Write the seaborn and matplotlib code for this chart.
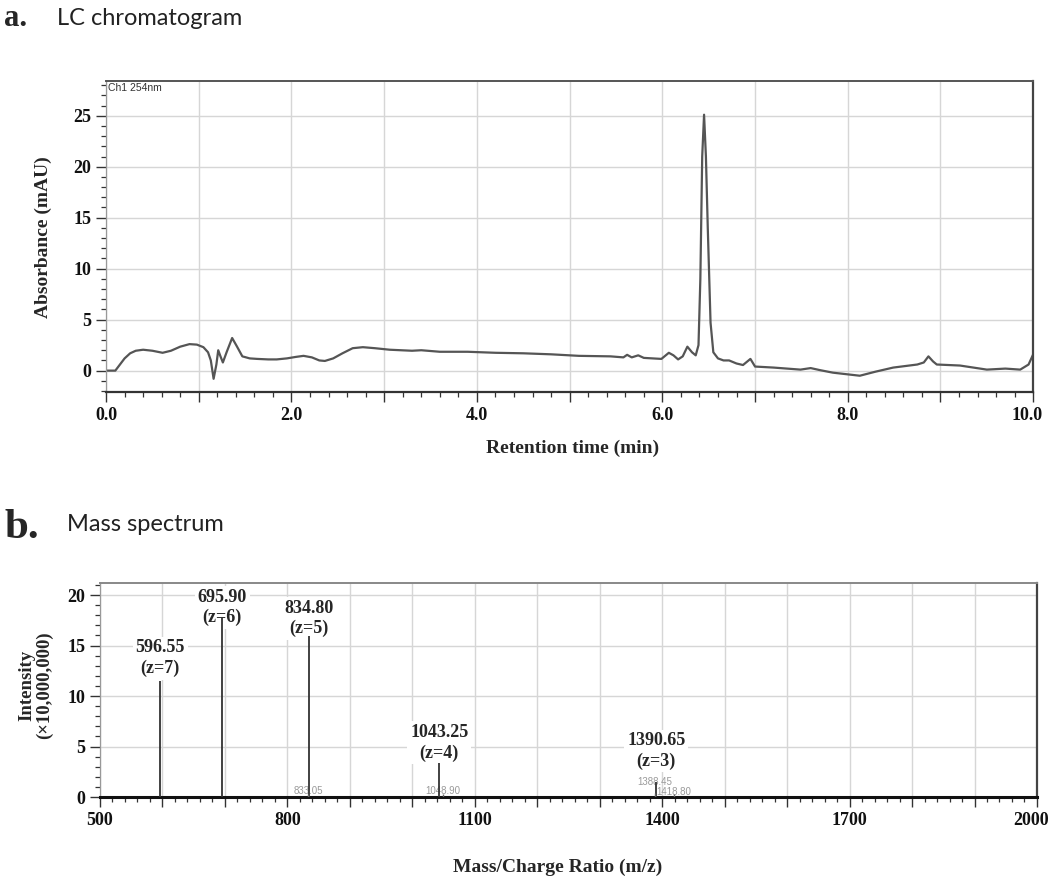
import matplotlib
matplotlib.use("Agg")
import matplotlib.pyplot as plt
from matplotlib.ticker import MultipleLocator, FuncFormatter
from matplotlib.transforms import ScaledTranslation
import pandas as pd
import seaborn as sns

# -----------------------------
# Data
# -----------------------------
# LC trace, Ch1 254 nm
rt_min = [0.00, 0.10, 0.15, 0.20, 0.26, 0.32, 0.40, 0.50, 0.61, 0.70, 0.80, 0.90, 0.98,
          1.05, 1.10, 1.13, 1.16, 1.19, 1.21, 1.23, 1.26, 1.30, 1.36, 1.41, 1.47, 1.55,
          1.63, 1.75, 1.84, 1.95, 2.05, 2.13, 2.22, 2.30, 2.36, 2.45, 2.55, 2.66, 2.77,
          2.90, 3.06, 3.30, 3.40, 3.60, 3.90, 4.20, 4.50, 4.80, 5.10, 5.44, 5.58, 5.62,
          5.67, 5.74, 5.80, 5.99, 6.07, 6.12, 6.17, 6.22, 6.27, 6.32, 6.36, 6.39, 6.41,
          6.43, 6.45, 6.47, 6.49, 6.52, 6.55, 6.60, 6.66, 6.72, 6.80, 6.87, 6.95, 7.00,
          7.20, 7.49, 7.60, 7.70, 7.84, 8.13, 8.30, 8.49, 8.75, 8.82, 8.87, 8.92, 8.96,
          9.21, 9.50, 9.70, 9.86, 9.95, 10.00]
abs_mau = [0.0, 0.0, 0.6, 1.2, 1.7, 1.95, 2.05, 1.95, 1.75, 1.95, 2.35, 2.6, 2.55,
           2.3, 1.8, 1.0, -0.8, 0.6, 2.0, 1.5, 0.8, 1.8, 3.2, 2.4, 1.4, 1.2,
           1.15, 1.1, 1.1, 1.2, 1.35, 1.45, 1.3, 1.0, 0.95, 1.2, 1.7, 2.2, 2.3,
           2.2, 2.05, 1.95, 2.0, 1.85, 1.85, 1.75, 1.7, 1.6, 1.45, 1.4, 1.3, 1.55,
           1.3, 1.5, 1.25, 1.15, 1.75, 1.5, 1.1, 1.4, 2.35, 1.8, 1.5, 2.5, 9.0,
           21.0, 25.1, 21.0, 14.0, 4.7, 1.8, 1.2, 1.0, 1.0, 0.7, 0.55, 1.15, 0.4,
           0.3, 0.1, 0.25, 0.05, -0.2, -0.5, -0.1, 0.3, 0.6, 0.8, 1.4, 0.9, 0.6,
           0.5, 0.1, 0.2, 0.1, 0.6, 1.6]

# mass spectrum, labelled peaks
mz_main = [596.55, 695.90, 834.80, 1043.25, 1390.65]
int_main = [11.5, 17.8, 15.9, 3.4, 1.5]
charge = [7, 6, 5, 4, 3]
label_pad = [0.4, -0.9, -0.1, 0.1, 1.2]

# small peaks with grey labels
mz_minor = [833.05, 1048.90, 1388.45, 1418.80]
int_minor = [0.3, 0.3, 0.4, 0.3]
minor_label_y = [0.15, 0.15, 1.0, 0.05]

chrom = pd.DataFrame({"rt": rt_min, "mau": abs_mau})

# -----------------------------
# Style
# -----------------------------
sns.set_theme(style="whitegrid")
plt.rcParams["font.family"] = ["Liberation Serif", "DejaVu Serif"]
serif_b = dict(family="Liberation Serif", weight="bold")
grid_col = "#d6d6d6"

fig = plt.figure(figsize=(10.5, 8.81), dpi=100)
ax1 = fig.add_axes([0.101, 0.555, 0.883, 0.353])
ax2 = fig.add_axes([0.0952, 0.0953, 0.8924, 0.243])


def style_axes(ax):
    ax.set_facecolor("white")
    ax.grid(True, which="major", color=grid_col, lw=1.0)
    ax.tick_params(which="both", direction="out", colors="#333333",
                   left=True, bottom=True, labelsize=13)
    ax.tick_params(which="major", length=7, width=1.0)
    ax.tick_params(which="minor", length=3.5, width=0.9)
    for lab in ax.get_xticklabels() + ax.get_yticklabels():
        lab.set_fontfamily("Liberation Serif")
        lab.set_fontweight("bold")
        lab.set_color("#111111")


# -----------------------------
# a. LC chromatogram
# -----------------------------
sns.lineplot(data=chrom, x="rt", y="mau", ax=ax1, color="#555555", lw=1.6,
             estimator=None, sort=False)
ax1.set_xlim(0, 10)
ax1.set_ylim(-2.1, 28.4)
ax1.xaxis.set_major_locator(MultipleLocator(1))
ax1.xaxis.set_minor_locator(MultipleLocator(0.2))
ax1.yaxis.set_major_locator(MultipleLocator(5))
ax1.yaxis.set_minor_locator(MultipleLocator(1))
ax1.xaxis.set_major_formatter(FuncFormatter(
    lambda v, p: f"{v:.1f}" if round(v) % 2 == 0 else ""))
ax1.yaxis.set_major_formatter(FuncFormatter(lambda v, p: f"{v:.0f}"))
ax1.set_xlabel("")
ax1.set_ylabel("")
style_axes(ax1)
for side, col, w in [("top", "#555555", 1.4), ("right", "#444444", 1.6),
                     ("bottom", "#333333", 1.6), ("left", "#999999", 0.9)]:
    ax1.spines[side].set_color(col)
    ax1.spines[side].set_linewidth(w)
ax1.text(0.002, 0.995, "Ch1 254nm", transform=ax1.transAxes, ha="left", va="top",
         fontsize=7.5, family="Liberation Sans", color="#333333")

fig.text(0.004, 0.9705, "a.", fontsize=22, **serif_b, va="baseline")
fig.text(0.054, 0.972, "LC chromatogram", fontsize=17, family="Lato",
         color="#222222", va="baseline")
fig.text(0.041, 0.731, "Absorbance (mAU)", rotation=90, ha="center", va="center",
         fontsize=14, **serif_b)
fig.text(0.545, 0.491, "Retention time (min)", ha="center", va="center",
         fontsize=14, **serif_b)

# -----------------------------
# b. Mass spectrum
# -----------------------------
ax2.vlines(mz_main, 0, int_main, color="#333333", lw=1.3, zorder=5)
ax2.vlines(mz_minor, 0, int_minor, color="#666666", lw=1.0, zorder=5)
for mz, h, z, pad in zip(mz_main, int_main, charge, label_pad):
    ax2.text(mz, h + pad, f"{mz:.2f}\n(z={z})", ha="center", va="bottom",
             fontsize=13, linespacing=1.25, zorder=4, **serif_b,
             bbox=dict(facecolor="white", edgecolor="none", pad=2))
for mz, ly in zip(mz_minor, minor_label_y):
    ax2.text(mz, ly, f"{mz:.2f}", ha="center", va="bottom", fontsize=7,
             family="Liberation Sans", color="#9a9a9a", zorder=3)

ax2.set_xlim(500, 2000)
ax2.set_ylim(0, 21.2)
ax2.xaxis.set_major_locator(MultipleLocator(100))
ax2.xaxis.set_minor_locator(MultipleLocator(20))
ax2.yaxis.set_major_locator(MultipleLocator(5))
ax2.yaxis.set_minor_locator(MultipleLocator(1))
ax2.xaxis.set_major_formatter(FuncFormatter(
    lambda v, p: f"{v:.0f}" if round(v - 500) % 300 == 0 else ""))
ax2.yaxis.set_major_formatter(FuncFormatter(lambda v, p: f"{v:.0f}"))
style_axes(ax2)
for side, col, w in [("top", "#888888", 1.4), ("right", "#444444", 1.6),
                     ("bottom", "#111111", 2.2), ("left", "#999999", 0.9)]:
    ax2.spines[side].set_color(col)
    ax2.spines[side].set_linewidth(w)

fig.text(0.004, 0.389, "b.", fontsize=31, **serif_b, va="baseline")
fig.text(0.064, 0.397, "Mass spectrum", fontsize=17, family="Lato",
         color="#222222", va="baseline")
fig.text(0.034, 0.222, "Intensity\n(\u00d710,000,000)", rotation=90, ha="center",
         va="center", multialignment="center", fontsize=13.5, linespacing=1.1,
         **serif_b)
fig.text(0.531, 0.015, "Mass/Charge Ratio (m/z)", ha="center", va="center",
         fontsize=14, **serif_b)

# pull the last x tick labels in a little so they stay on the canvas
fig.canvas.draw()
for ax, last in [(ax1, "10.0"), (ax2, "2000")]:
    for lab in ax.get_xticklabels():
        if lab.get_text() == last:
            lab.set_transform(lab.get_transform()
                              + ScaledTranslation(-6 / 100, 0, fig.dpi_scale_trans))

fig.savefig("out.png", dpi=100, facecolor="white")
